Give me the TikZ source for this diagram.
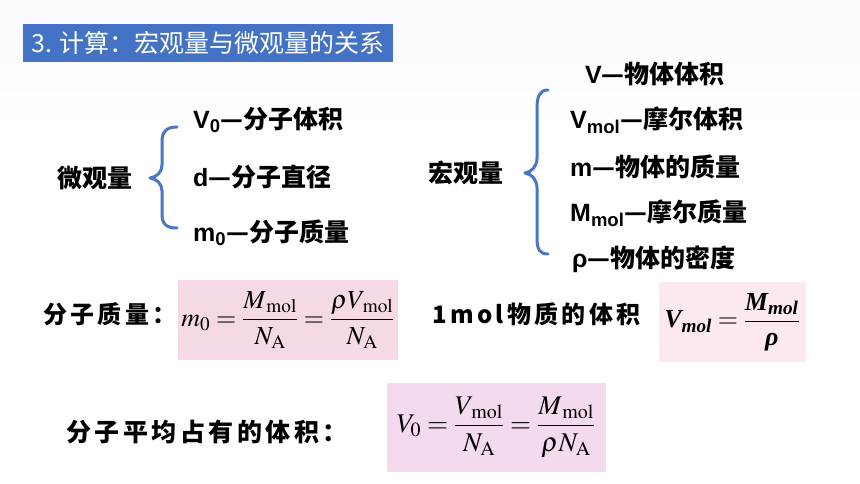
\documentclass[tikz,border=0pt]{standalone}
\usepackage{amsmath}
\usepackage{mathptmx}
\usepackage[no-math]{fontspec}
\setmainfont{Liberation Sans}
\newfontfamily\cjk{Noto Sans CJK SC}
\newfontfamily\cjkwide[LetterSpace=14]{Noto Sans CJK SC}
\newfontfamily\tms{Liberation Serif}
\usetikzlibrary{positioning}

\definecolor{titleblue}{HTML}{4472C4}
\definecolor{bracebl}{HTML}{4A76C6}
\definecolor{pinkA}{RGB}{246,217,231}
\definecolor{pinkB}{RGB}{252,233,240}
\definecolor{pinkC}{RGB}{243,218,237}

% one line of a list: symbol, then dash and name
\newcommand{\entry}[2]{{\bfseries #1}{\cjk\bfseries —#2}}
\newcommand{\bit}[1]{\text{\tms\bfseries\itshape #1}}

\begin{document}
\begin{tikzpicture}[x=1pt,y=-1pt,
    item/.style={anchor=west,inner sep=0pt,font=\fontsize{25}{28}\selectfont},
    group/.style={inner sep=0pt,font=\fontsize{25}{28}\selectfont\cjk\bfseries},
    label/.style={anchor=west,inner sep=0pt,font=\fontsize{24}{28}\selectfont\cjkwide\bfseries},
    formbox/.style={rectangle,inner sep=0pt,font=\fontsize{26}{30}\selectfont},
    curly/.style={draw=bracebl,line width=3pt,line cap=round,line join=round}]

    \useasboundingbox (0,0) rectangle (860,484);
    \shade[top color=black!4!blue!2,bottom color=white] (0,0) rectangle (860,130);

    % title
    \node[fill=titleblue,anchor=west,minimum width=370pt,minimum height=38pt,
          inner xsep=8pt,inner ysep=0pt,text=white,font=\fontsize{25}{28}\selectfont\cjk]
          (title) at (23,43) {3. 计算：宏观量与微观量的关系};

    % microscopic quantities
    \node[group] (micro) at (95,178) {微观量};
    \node[item] (v0) at (193,120) {\entry{V\textsubscript{0}}{分子体积}};
    \node[item] (d) at (193,177) {\entry{d}{分子直径}};
    \node[item] (m0) at (193,233) {\entry{m\textsubscript{0}}{分子质量}};
    \draw[curly] (177,127) .. controls (166,127) and (162,132) .. (162,142) -- (162,165)
        .. controls (162,172) and (157,177) .. (150,178)
        .. controls (157,179) and (162,184) .. (162,191) -- (162,214)
        .. controls (162,224) and (166,228) .. (177,228);

    % macroscopic quantities
    \node[group] (macro) at (466,173) {宏观量};
    \node[item] (vol) at (585,74) {\entry{V}{物体体积}};
    \node[item] (vmol) at (570,120) {\entry{V\textsubscript{mol}}{摩尔体积}};
    \node[item] (m) at (570,167) {\entry{m}{物体的质量}};
    \node[item] (mmol) at (570,213) {\entry{M\textsubscript{mol}}{摩尔质量}};
    \node[item] (rho) at (572,259) {\entry{ρ}{物体的密度}};
    \draw[curly] (548,90) .. controls (540,90) and (537,96) .. (537,108) -- (537,158)
        .. controls (537,166) and (532,172) .. (525,173)
        .. controls (532,174) and (537,180) .. (537,188) -- (537,238)
        .. controls (537,250) and (540,254) .. (548,254);

    % formulas
    \node[label] (masslbl) at (43,314) {分子质量：};
    \node[formbox,fill=pinkA,minimum width=220pt,minimum height=80pt] (mass) at (288,320)
        {$\displaystyle m_0=\frac{M_{\,\rm mol}}{N_{\rm A}}=\frac{\rho V_{\,\rm mol}}{N_{\rm A}}$};

    \node[label] (mollbl) at (432,314) {1mol物质的体积};
    \node[formbox,fill=pinkB,minimum width=147pt,minimum height=80pt] (molvol) at (732,322)
        {$\displaystyle \bit{V}_{\bit{mol}}\mathrel{\mathbf{=}}\frac{\bit{M}_{\bit{mol}}}{\bit{ρ}}$};

    \node[label,font=\fontsize{25}{28}\selectfont\cjkwide\bfseries] (avglbl) at (66,432)
        {分子平均占有的体积：};
    \node[formbox,fill=pinkC,minimum width=219pt,minimum height=89pt,
          font=\fontsize{27}{30}\selectfont] (avg) at (496,427)
        {$\displaystyle V_0=\frac{V_{\,\rm mol}}{N_{\rm A}}=\frac{M_{\,\rm mol}}{\rho N_{\rm A}}$};
\end{tikzpicture}
\end{document}
